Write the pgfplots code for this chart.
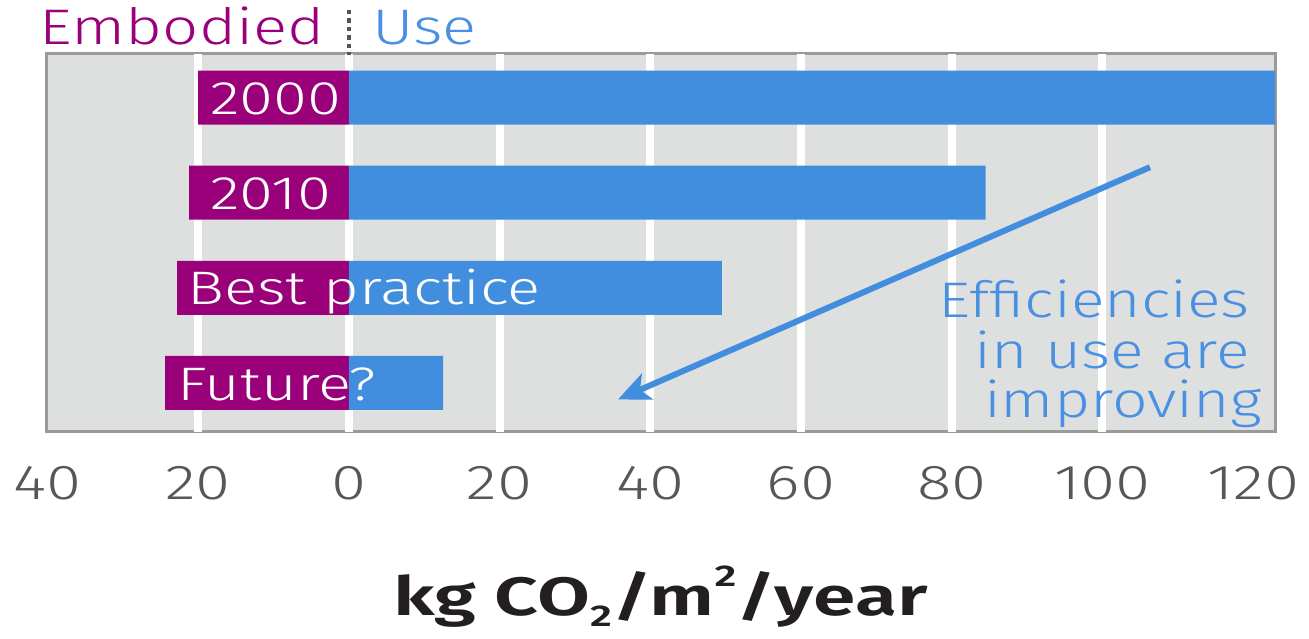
\documentclass[border=0pt]{standalone}
\usepackage{fontspec}
\setmainfont{Fira Sans Light}[FakeStretch=1.3]
\newfontfamily\hdrfont{Fira Sans Light}[FakeStretch=1.27]
\newfontfamily\barfont{Fira Sans Light}[FakeStretch=1.31]
\newfontfamily\notefont{Fira Sans Light}[FakeStretch=1.25]
\newfontfamily\labfont{Fira Sans SemiBold}[FakeStretch=1.42]
\usepackage{pgfplots}
\pgfplotsset{compat=1.18}
\usetikzlibrary{arrows.meta}

\definecolor{embpurple}{HTML}{99007A}
\definecolor{useblue}{HTML}{418EDE}
\definecolor{txtblue}{HTML}{4A90E2}
\definecolor{panelgray}{HTML}{DEDFDF}
\definecolor{framegray}{HTML}{9A9A9A}
\definecolor{tickgray}{HTML}{575757}
\definecolor{sepgray}{HTML}{555555}
\definecolor{labdark}{HTML}{231F20}

\begin{document}
\begin{tikzpicture}
\begin{axis}[
  name=main,
  scale only axis,
  width=614.5pt, height=189pt,
  xmin=-40.2, xmax=122.9,
  ymin=0.484, ymax=4.458,
  xbar, bar width=27pt, bar shift=0pt,
  axis background/.style={fill=panelgray},
  axis line style={draw=framegray, line width=1.5pt},
  ytick=\empty,
  xtick={-40,-20,0,20,40,60,80,100,120},
  xticklabels={40,20,0,20,40,60,80,100,120},
  major tick length=0pt,
  extra x ticks={-20,0,20,40,60,80,100},
  extra x tick labels={},
  extra x tick style={grid=major, major grid style={draw=white, line width=4pt}},
  xticklabel style={text=tickgray, font=\fontsize{24.5}{29}\selectfont, anchor=base, yshift=-34pt},
  /pgf/number format/assume math mode=true,
  clip=false,
]
% embodied carbon (plotted to the left of zero)
\addplot[fill=embpurple, draw=none] coordinates {(-20,4) (-21.2,3) (-22.8,2) (-24.4,1)};
% operational carbon
\addplot[fill=useblue, draw=none] coordinates {(122.9,4) (84.5,3) (49.5,2) (12.5,1)};

% bar labels
\begin{scope}[every node/.style={text=white, inner sep=0pt, anchor=base west,
    font=\barfont\fontsize{23.5}{28}\selectfont}]
  \node at (axis cs:-18.45,3.82) {2000};
  \node at (axis cs:-18.45,2.82) {2010};
  \node at (axis cs:-21.5,1.82) {Best practice};
  \node at (axis cs:-22.8,0.82) {Future?};
\end{scope}

% header
\node[anchor=base east, inner sep=0pt, text=embpurple, font=\hdrfont\fontsize{25}{30}\selectfont]
  at (axis cs:-3.19,4.553) {Embodied};
\node[anchor=base west, inner sep=0pt, text=txtblue, font=\hdrfont\fontsize{25}{30}\selectfont]
  at (axis cs:3.05,4.553) {Use};
\draw[sepgray, line width=2.4pt, dash pattern=on 2.2pt off 2pt] (axis cs:0,4.92) -- (axis cs:0,4.447);

% trend arrow and note
\draw[useblue, line width=3pt, -{Stealth[length=16pt, width=14pt, inset=4pt]}]
  (axis cs:106.3,3.268) -- (axis cs:35.7,0.826);
\begin{scope}[every node/.style={text=txtblue, inner sep=0pt, anchor=base east,
    font=\notefont\fontsize{25}{30}\selectfont}]
  \node at (axis cs:119.6,1.689) {Efficiencies};
  \node at (axis cs:119.6,1.153) {in use are};
  \node at (axis cs:121.2,0.637) {improving};
\end{scope}
\end{axis}

\node[anchor=base, inner sep=0pt, text=labdark, font=\labfont\fontsize{27}{32}\selectfont]
  at ([yshift=-92pt]main.south) {kg CO\raisebox{-0.2em}{\fontsize{15}{15}\selectfont 2}/m\raisebox{0.55em}{\fontsize{15}{15}\selectfont 2}/year};

\path ([shift={(-23pt,-103.5pt)}]main.south west) rectangle ([shift={(17pt,27pt)}]main.north east);
\end{tikzpicture}
\end{document}
